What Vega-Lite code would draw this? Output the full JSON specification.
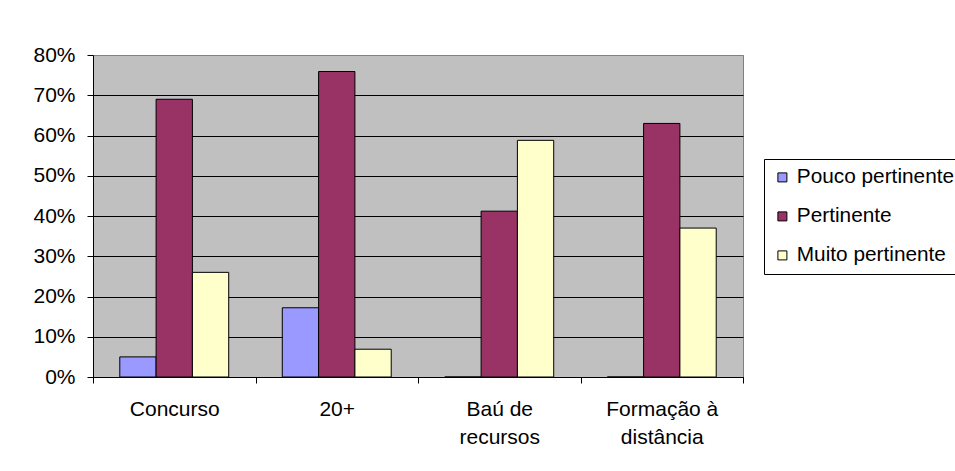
{
  "$schema": "https://vega.github.io/schema/vega-lite/v6.json",
  "width": 650,
  "height": 322,
  "autosize": {"type": "none"},
  "padding": {"left": 93, "top": 55, "right": 212, "bottom": 94},
  "background": "white",
  "config": {
    "font": "Liberation Sans",
    "view": {"fill": "#C0C0C0", "stroke": "#808080", "strokeWidth": 1}
  },
  "data": {
    "values": [
      {"categoria": "Concurso", "avaliacao": "Pouco pertinente", "valor": 0.05},
      {"categoria": "Concurso", "avaliacao": "Pertinente", "valor": 0.69},
      {"categoria": "Concurso", "avaliacao": "Muito pertinente", "valor": 0.26},
      {"categoria": "20+", "avaliacao": "Pouco pertinente", "valor": 0.172},
      {"categoria": "20+", "avaliacao": "Pertinente", "valor": 0.759},
      {"categoria": "20+", "avaliacao": "Muito pertinente", "valor": 0.069},
      {"categoria": "Baú de recursos", "avaliacao": "Pouco pertinente", "valor": 0},
      {"categoria": "Baú de recursos", "avaliacao": "Pertinente", "valor": 0.412},
      {"categoria": "Baú de recursos", "avaliacao": "Muito pertinente", "valor": 0.588},
      {"categoria": "Formação à distância", "avaliacao": "Pouco pertinente", "valor": 0},
      {"categoria": "Formação à distância", "avaliacao": "Pertinente", "valor": 0.63},
      {"categoria": "Formação à distância", "avaliacao": "Muito pertinente", "valor": 0.37}
    ]
  },
  "mark": {"type": "bar", "stroke": "black", "strokeWidth": 1},
  "encoding": {
    "x": {
      "field": "categoria",
      "type": "nominal",
      "sort": null,
      "scale": {"paddingInner": 0, "paddingOuter": 0},
      "axis": {
        "title": null,
        "labelAngle": 0,
        "labelFontSize": 21,
        "labelColor": "black",
        "labelPadding": 15,
        "labelLineHeight": 28.5,
        "labelLimit": 0,
        "labelExpr": "datum.value == 'Baú de recursos' ? ['Baú de', 'recursos'] : datum.value == 'Formação à distância' ? ['Formação à', 'distância'] : datum.value",
        "tickBand": "extent",
        "tickSize": 6,
        "tickColor": "black",
        "domainColor": "black",
        "grid": false
      }
    },
    "xOffset": {
      "field": "avaliacao",
      "type": "nominal",
      "sort": ["Pouco pertinente", "Pertinente", "Muito pertinente"],
      "scale": {"paddingInner": 0, "paddingOuter": 0.738}
    },
    "y": {
      "field": "valor",
      "type": "quantitative",
      "scale": {"domain": [0, 0.8], "nice": false},
      "axis": {
        "title": null,
        "format": ".0%",
        "values": [0, 0.1, 0.2, 0.3, 0.4, 0.5, 0.6, 0.7, 0.8],
        "labelFontSize": 21,
        "labelColor": "black",
        "labelPadding": 12,
        "tickSize": 6,
        "tickColor": "black",
        "domainColor": "black",
        "grid": true,
        "gridOpacity": 1,
        "gridColor": {"condition": {"test": "datum.value >= 0.79", "value": "#808080"}, "value": "black"}
      }
    },
    "color": {
      "field": "avaliacao",
      "type": "nominal",
      "sort": ["Pouco pertinente", "Pertinente", "Muito pertinente"],
      "scale": {
        "domain": ["Pouco pertinente", "Pertinente", "Muito pertinente"],
        "range": ["#9999FF", "#993366", "#FFFFCC"]
      },
      "legend": {
        "title": null,
        "orient": "none",
        "legendX": 671,
        "legendY": 104,
        "strokeColor": "black",
        "fillColor": "white",
        "padding": 8,
        "symbolType": "square",
        "symbolSize": 81,
        "symbolStrokeColor": "black",
        "symbolStrokeWidth": 1,
        "symbolOpacity": 1,
        "labelFontSize": 20.8,
        "labelColor": "black",
        "labelOffset": 4,
        "rowPadding": 17,
        "labelLimit": 0
      }
    }
  }
}
